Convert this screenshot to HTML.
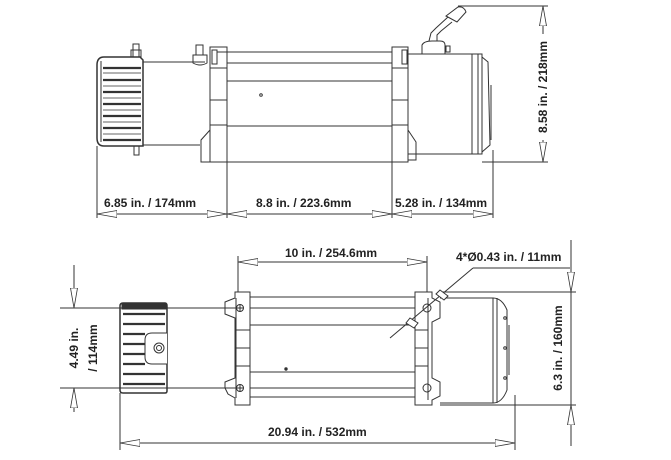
<!DOCTYPE html>
<html><head><meta charset="utf-8"><style>
html,body{margin:0;padding:0;background:#fff;}
svg{display:block;}
text{font-family:"Liberation Sans",Arial,sans-serif;font-weight:bold;font-size:12px;fill:#222;}
</style></head><body>
<svg width="671" height="460" viewBox="0 0 671 460" xmlns="http://www.w3.org/2000/svg">
<defs>
<marker id="a" viewBox="0 0 20 8" refX="20" refY="4" markerWidth="20" markerHeight="8" orient="auto-start-reverse" markerUnits="userSpaceOnUse">
<path d="M0,0.5 L20,4 L0,7.5 Z" fill="#fff" stroke="#333" stroke-width="0.8"/>
</marker>
</defs>
<g fill="none" stroke="#333" stroke-width="1">
<!-- TOP VIEW -->
<path d="M104,57 L140,57 L143,60 L143,146 L104,146 Q97,146 97,138 L97,65 Q97,57 104,57 Z" stroke-width="1.5"/>
<path d="M101,61 L101,142" />
<g stroke-width="2.2">
<line x1="103" y1="68" x2="141" y2="68"/><line x1="103" y1="80" x2="141" y2="80"/>
<line x1="103" y1="92" x2="141" y2="92"/><line x1="103" y1="104" x2="141" y2="104"/>
<line x1="103" y1="116" x2="141" y2="116"/><line x1="103" y1="128" x2="141" y2="128"/>
<line x1="103" y1="140" x2="141" y2="140"/>
</g>
<g stroke-width="0.8">
<line x1="103" y1="73" x2="141" y2="73"/><line x1="103" y1="86" x2="141" y2="86"/>
<line x1="103" y1="98" x2="141" y2="98"/><line x1="103" y1="110" x2="141" y2="110"/>
<line x1="103" y1="122" x2="141" y2="122"/><line x1="103" y1="134" x2="141" y2="134"/>
</g>
<rect x="133" y="44" width="6" height="13"/><rect x="131" y="50" width="10" height="7"/>
<rect x="134" y="146" width="5" height="9"/>
<line x1="143" y1="62" x2="205" y2="62"/><line x1="143" y1="145" x2="200" y2="145"/>
<rect x="196" y="45" width="7" height="10"/><path d="M193,55 h14 v8 q-7,4 -14,0 z"/>
<rect x="210" y="47" width="17" height="115"/>
<rect x="212" y="50" width="5" height="14"/>
<path d="M210,130 L201,140 L201,162 L210,162"/>
<line x1="210" y1="68" x2="227" y2="68"/><line x1="210" y1="100" x2="227" y2="100"/><line x1="210" y1="125" x2="227" y2="125"/>
<line x1="217" y1="52" x2="392" y2="52"/><line x1="227" y1="63" x2="392" y2="63"/>
<line x1="227" y1="81" x2="392" y2="81"/><line x1="227" y1="126" x2="392" y2="126"/>
<line x1="227" y1="162" x2="392" y2="162"/>
<circle cx="261" cy="95" r="1.3"/>
<rect x="392" y="47" width="16" height="115"/>
<rect x="402" y="50" width="5" height="14"/>
<path d="M408,130 L416,142 L416,160 L408,160"/>
<line x1="392" y1="68" x2="408" y2="68"/><line x1="392" y1="100" x2="408" y2="100"/><line x1="392" y1="125" x2="408" y2="125"/>
<rect x="408" y="54" width="74" height="100"/>
<line x1="472" y1="54" x2="472" y2="154"/><line x1="478" y1="54" x2="478" y2="154"/>
<path d="M482,57 L488,62 L490,145 L482,152"/>
<line x1="491" y1="85" x2="491" y2="140"/>
<path d="M422,54 L422,45 Q424,41 432,41 L440,41 Q445,41 445,45 L445,54" />
<rect x="446" y="46" width="4" height="6"/>
<path d="M429,41 L431,33 L436,28 L448,17 M437,41 L437,35 L441,31 L452,22"/>
<path d="M446,16 L458,7 Q464,6 466,12 L457,22 Z"/>
<line x1="458" y1="6" x2="548" y2="6"/>
<line x1="482" y1="162" x2="548" y2="162"/>
<line x1="543" y1="6" x2="543" y2="34" marker-start="url(#a)"/>
<line x1="543" y1="140" x2="543" y2="162" marker-end="url(#a)"/>
<line x1="97" y1="146" x2="97" y2="218"/><line x1="227" y1="162" x2="227" y2="218"/>
<line x1="392" y1="162" x2="392" y2="218"/><line x1="493" y1="150" x2="493" y2="218"/>
<line x1="97" y1="214" x2="227" y2="214" marker-start="url(#a)" marker-end="url(#a)"/>
<line x1="227" y1="214" x2="392" y2="214" marker-start="url(#a)" marker-end="url(#a)"/>
<line x1="392" y1="214" x2="493" y2="214" marker-start="url(#a)" marker-end="url(#a)"/>

<!-- BOTTOM VIEW -->
<path d="M123,303 L165,303 Q167,303 167,306 L167,391 Q167,393 165,393 L123,393 Q120,393 120,390 L120,306 Q120,303 123,303 Z" stroke-width="1.5"/>
<rect x="122" y="304" width="44" height="5" fill="#333"/>
<g stroke-width="2.2">
<line x1="123" y1="314" x2="165" y2="314"/><line x1="123" y1="324" x2="165" y2="324"/>
<line x1="123" y1="334" x2="145" y2="334"/><line x1="123" y1="344" x2="145" y2="344"/>
<line x1="123" y1="354" x2="145" y2="354"/><line x1="123" y1="364" x2="145" y2="364"/>
<line x1="123" y1="374" x2="165" y2="374"/><line x1="123" y1="384" x2="165" y2="384"/>
</g>
<path d="M167,333 L152,333 Q145,333 145,340 L145,357 Q145,364 152,364 L167,364" fill="#fff"/>
<circle cx="159" cy="348" r="5"/><circle cx="159" cy="348" r="2.5"/>
<line x1="60" y1="308" x2="236" y2="308"/><line x1="60" y1="388" x2="236" y2="388"/>
<line x1="120" y1="393" x2="120" y2="450"/>
<path d="M235,292 L250,292 L250,405 L235,405 L235,398 L228,394 L225,388 L225,382 L235,378 L235,318 L225,314 L225,302 L235,298 Z"/>
<line x1="236" y1="298" x2="236" y2="398"/>
<circle cx="240" cy="308" r="3.5"/><circle cx="240" cy="388" r="3.5"/>
<line x1="236" y1="308" x2="244" y2="308"/><line x1="240" y1="304" x2="240" y2="312"/>
<line x1="236" y1="388" x2="244" y2="388"/><line x1="240" y1="384" x2="240" y2="392"/>
<line x1="236" y1="330" x2="250" y2="330"/><line x1="236" y1="348" x2="250" y2="348"/><line x1="236" y1="366" x2="250" y2="366"/>
<line x1="250" y1="297" x2="415" y2="297"/><line x1="250" y1="308" x2="415" y2="308"/>
<line x1="250" y1="325" x2="415" y2="325"/><line x1="250" y1="372" x2="415" y2="372"/>
<line x1="250" y1="388" x2="415" y2="388"/><line x1="250" y1="397" x2="415" y2="397"/>
<circle cx="286" cy="369" r="1.2" fill="#333"/>
<path d="M415,292 L432,292 L432,298 L440,302 L440,318 L432,322 L432,378 L440,382 L440,396 L432,400 L432,405 L415,405 Z"/>
<line x1="428" y1="298" x2="428" y2="400"/>
<circle cx="427" cy="308" r="4"/><circle cx="427" cy="388" r="4"/>
<line x1="415" y1="330" x2="428" y2="330"/><line x1="415" y1="348" x2="428" y2="348"/><line x1="415" y1="366" x2="428" y2="366"/>
<path d="M440,298 L493,298 L493,403 L440,403"/>
<line x1="497" y1="298" x2="497" y2="403"/>
<path d="M493,298 Q502,298 507,310 L507,390 Q502,403 493,403"/>
<line x1="509" y1="325" x2="509" y2="375"/>
<circle cx="505" cy="318" r="1.3"/><circle cx="505" cy="348" r="1.3"/><circle cx="505" cy="378" r="1.3"/>
<line x1="238" y1="292" x2="238" y2="256"/><line x1="427" y1="292" x2="427" y2="256"/>
<line x1="238" y1="262" x2="427" y2="262" marker-start="url(#a)" marker-end="url(#a)"/>
<line x1="74" y1="265" x2="74" y2="308" marker-end="url(#a)"/>
<line x1="74" y1="412" x2="74" y2="388" marker-end="url(#a)"/>
<line x1="440" y1="292" x2="576" y2="292"/><line x1="440" y1="405" x2="576" y2="405"/>
<line x1="571" y1="240" x2="571" y2="446"/>
<line x1="571" y1="268" x2="571" y2="292" marker-end="url(#a)"/>
<line x1="571" y1="432" x2="571" y2="405" marker-end="url(#a)"/>
<line x1="515" y1="395" x2="515" y2="450"/>
<line x1="120" y1="443" x2="515" y2="443" marker-start="url(#a)" marker-end="url(#a)"/>
<line x1="570" y1="268" x2="473" y2="268"/>
<line x1="473" y1="268" x2="390" y2="338"/>
<path d="M440,290 L448,296 L444,300 L436,294 Z" fill="#fff"/>
<path d="M410,318 L418,323 L414,328 L406,323 Z" fill="#fff"/>
</g>
<text x="104" y="207">6.85 in. / 174mm</text>
<text x="256" y="207">8.8 in. / 223.6mm</text>
<text x="395" y="207">5.28 in. / 134mm</text>
<text transform="translate(547,87) rotate(-90)" text-anchor="middle">8.58 in. / 218mm</text>
<text x="285" y="257">10 in. / 254.6mm</text>
<text x="456" y="261">4*Ø0.43 in. / 11mm</text>
<text transform="translate(78,348) rotate(-90)" text-anchor="middle">4.49 in.</text>
<text transform="translate(97,348) rotate(-90)" text-anchor="middle">/ 114mm</text>
<text transform="translate(562,348) rotate(-90)" text-anchor="middle">6.3 in. / 160mm</text>
<text x="268" y="436">20.94 in. / 532mm</text>
</svg>
</body></html>
